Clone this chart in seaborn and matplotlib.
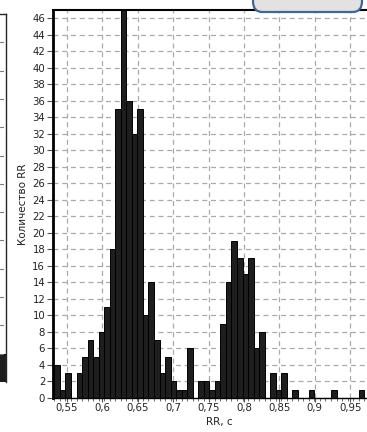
import numpy as np
import pandas as pd
import seaborn as sns
import matplotlib
matplotlib.use("Agg")
import matplotlib.pyplot as plt
from matplotlib.ticker import FixedLocator, FuncFormatter
from matplotlib.patches import FancyBboxPatch

# RR-interval histogram: 128 Hz sampling -> bin width 1/128 s
bin_start = 0.5323
bin_width = 1.0 / 128
rr_counts = [
    4, 1, 3, 0, 3, 5, 7, 5, 8, 11,
    18, 35, 47, 36, 32, 35, 10, 14, 7, 3,
    5, 2, 1, 1, 6, 0, 2, 2, 1, 2,
    9, 14, 19, 17, 15, 17, 6, 8, 0, 3,
    1, 3, 0, 1, 0, 0, 1, 0, 0, 0,
    1, 0, 0, 0, 0, 1,
]
x_ticks = [0.55, 0.6, 0.65, 0.7, 0.75, 0.8, 0.85, 0.9, 0.95]
y_ticks = list(range(0, 47, 2))
x_label = "RR, с"
y_label = "Количество RR"

edges = bin_start + bin_width * np.arange(len(rr_counts) + 1)
centers = (edges[:-1] + edges[1:]) / 2
df = pd.DataFrame({"rr": centers, "count": rr_counts})

sns.set_style("ticks")
plt.rcParams["font.family"] = ["DejaVu Sans"]

W, H = 367, 432
fig = plt.figure(figsize=(W / 100, H / 100), dpi=100)

def px_rect(x0, y0, x1, y1):
    return [x0 / W, 1 - y1 / H, (x1 - x0) / W, (y1 - y0) / H]

ax = fig.add_axes(px_rect(52.8, 10, 385.6, 398))
sns.histplot(data=df, x="rr", weights="count",
             binwidth=bin_width, binrange=(float(edges[0]), float(edges[-1])),
             ax=ax, color="#1e1e1e", edgecolor="black", linewidth=0.7, alpha=1.0)

ax.set_xlim(0.53, 1.0)
ax.set_ylim(0, 47)
ax.xaxis.set_major_locator(FixedLocator(x_ticks))
ax.xaxis.set_minor_locator(FixedLocator(list(edges)))
ax.yaxis.set_major_locator(FixedLocator(y_ticks))
ax.xaxis.set_major_formatter(FuncFormatter(lambda v, p: f"{v:g}".replace(".", ",")))
ax.yaxis.set_major_formatter(FuncFormatter(lambda v, p: f"{v:g}"))

ax.grid(True, which="major", linestyle=(0, (4, 3)), color="#aaaaaa", linewidth=0.9)
ax.set_axisbelow(True)

ax.tick_params(axis="y", which="major", labelsize=7.3, color="#555555",
               length=4, width=0.8, direction="out", pad=1.5, labelcolor="#222222")
ax.tick_params(axis="x", which="major", labelsize=7.3, color="#555555",
               length=3, width=0.8, direction="out", pad=0.5, labelcolor="#222222")
ax.tick_params(axis="x", which="minor", length=2.5, width=0.6, color="#555555")

ax.spines["left"].set_linewidth(2.0)
ax.spines["top"].set_linewidth(1.5)
ax.spines["bottom"].set_linewidth(1.0)
ax.spines["right"].set_visible(False)
for s in ("left", "top", "bottom"):
    ax.spines[s].set_color("black")

ax.set_xlabel(x_label, fontsize=7.5, labelpad=3, color="#222222")
ax.set_ylabel(y_label, fontsize=7.5, labelpad=3, color="#222222")

# neighbouring panel edge on the left
ax2 = fig.add_axes(px_rect(-30, 14, 6, 382))
ax2.set_xlim(0, 1)
ax2.set_ylim(0, 13)
ax2.bar([0.5], [1], width=1.0, color="#1e1e1e", edgecolor="black", linewidth=0.7)
for yy in range(1, 13):
    ax2.plot([0.83, 0.92], [yy, yy], color="#777777", linewidth=0.8)
ax2.set_xticks([])
ax2.set_yticks([])
for s in ("left", "bottom"):
    ax2.spines[s].set_visible(False)
ax2.spines["top"].set_linewidth(1.0)
ax2.spines["right"].set_linewidth(1.0)

# header box at the top right
box = FancyBboxPatch((253 / W, 1 - 12 / H), (362 - 253) / W, 30 / H,
                     boxstyle="round,pad=0,rounding_size=0.025",
                     transform=fig.transFigure, facecolor="#e2e2e2",
                     edgecolor="#3f6797", linewidth=1.6, clip_on=False)
fig.patches.append(box)

fig.savefig("out.png", dpi=100)
